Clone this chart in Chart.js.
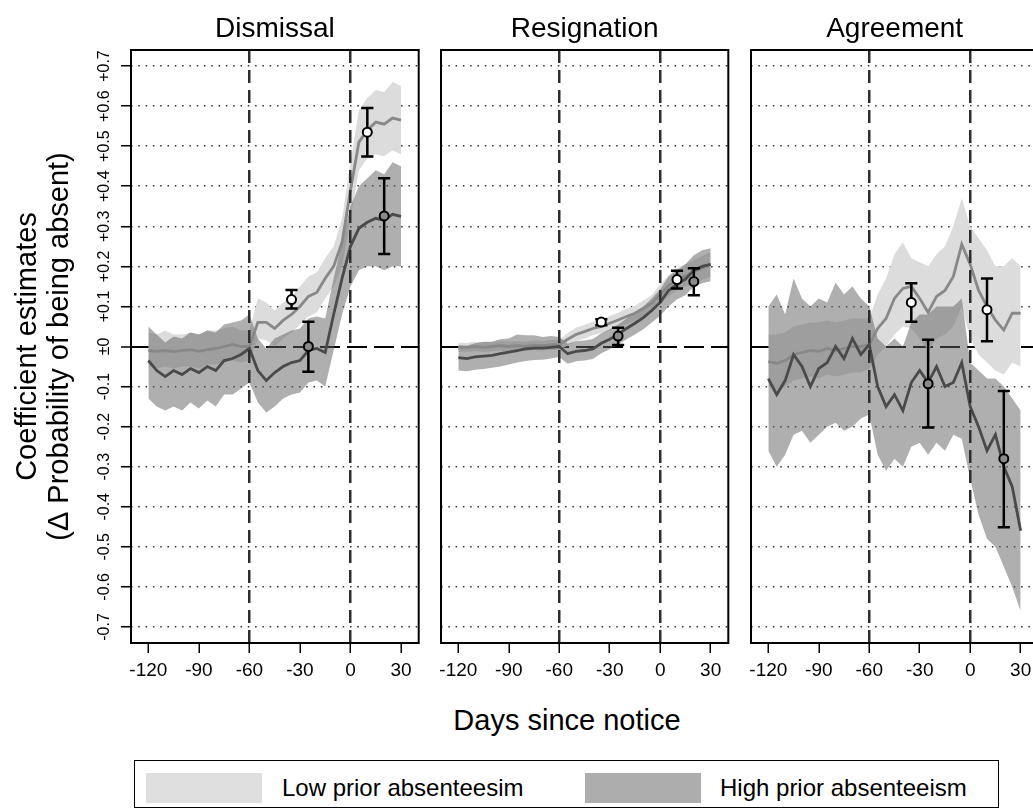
<!DOCTYPE html>
<html lang="en">
<head>
<meta charset="UTF-8">
<title>Absence around notice</title>
<script src="https://cdn.jsdelivr.net/npm/chart.js"></script>
<style>
  body { margin: 0; width: 1033px; height: 812px; overflow: hidden; background: #fff;
         font-family: "Liberation Sans", Arial, Helvetica, sans-serif; color: #000; position: relative; }
  canvas { position: absolute; top: 0; }
  .txt { position: absolute; white-space: nowrap; }
  #xlabel { left: 367px; width: 400px; top: 701px; text-align: center; font-size: 29px; line-height: 38px; }
  #legendBox { position: absolute; left: 134px; top: 760px; width: 865px; height: 48px; border: 1.5px solid #000; box-sizing: border-box; }
  .sw { position: absolute; top: 773px; width: 116px; height: 30px; }
  .lt { top: 773px; font-size: 24px; line-height: 30px; }
</style>
</head>
<body>
<canvas id="c1" width="430" height="700" style="left:0px"></canvas>
<canvas id="c2" width="310" height="700" style="left:430px"></canvas>
<canvas id="c3" width="310" height="700" style="left:740px"></canvas>
<div id="xlabel" class="txt">Days since notice</div>
<div id="legendBox"></div>
<div class="sw" style="left:146px; background:#dedede"></div>
<div class="txt lt" style="left:282px">Low prior absenteesim</div>
<div class="sw" style="left:585px; background:#adadad"></div>
<div class="txt lt" style="left:720px">High prior absenteeism</div>
<script>
// days since notice (every 5 days)
const days = [-120,-115,-110,-105,-100,-95,-90,-85,-80,-75,-70,-65,-60,-55,-50,-45,-40,-35,-30,-25,-20,-15,-10,-5,0,5,10,15,20,25,30];
const xTicks = [-120,-90,-60,-30,0,30];
const xTickLabels = ['-120','-90','-60','-30','0','30'];
const yTicks = [-0.7,-0.6,-0.5,-0.4,-0.3,-0.2,-0.1,0,0.1,0.2,0.3,0.4,0.5,0.6,0.7];
const yTickLabels = ['-0.7','-0.6','-0.5','-0.4','-0.3','-0.2','-0.1','\u00b10','+0.1','+0.2','+0.3','+0.4','+0.5','+0.6','+0.7'];
const panelTitles = ['Dismissal','Resignation','Agreement'];

// Dismissal
const disLowMean = [-0.01,-0.012,-0.01,-0.013,-0.01,-0.008,-0.012,-0.008,-0.005,0.0,0.005,0.0,0.0,0.06,0.06,0.045,0.065,0.08,0.1,0.125,0.135,0.17,0.2,0.26,0.39,0.51,0.54,0.56,0.555,0.57,0.565];
const disLowLo = [-0.05,-0.055,-0.05,-0.055,-0.05,-0.05,-0.055,-0.045,-0.045,-0.04,-0.035,-0.04,-0.035,0.02,0.015,0.0,0.02,0.035,0.055,0.075,0.085,0.12,0.15,0.2,0.32,0.44,0.47,0.48,0.475,0.49,0.48];
const disLowHi = [0.035,0.03,0.04,0.03,0.03,0.035,0.03,0.04,0.04,0.045,0.05,0.04,0.04,0.12,0.11,0.09,0.11,0.125,0.15,0.175,0.185,0.22,0.25,0.32,0.46,0.59,0.62,0.64,0.635,0.66,0.65];
const disHighMean = [-0.035,-0.06,-0.075,-0.06,-0.07,-0.055,-0.065,-0.05,-0.06,-0.035,-0.03,-0.02,-0.005,-0.06,-0.085,-0.065,-0.05,-0.04,-0.035,-0.01,-0.005,-0.015,0.08,0.17,0.25,0.295,0.31,0.32,0.315,0.33,0.325];
const disHighLo = [-0.13,-0.15,-0.16,-0.15,-0.16,-0.14,-0.155,-0.135,-0.15,-0.12,-0.12,-0.105,-0.09,-0.14,-0.165,-0.15,-0.13,-0.12,-0.115,-0.09,-0.085,-0.1,-0.01,0.08,0.15,0.19,0.2,0.2,0.19,0.2,0.2];
const disHighHi = [0.05,0.03,0.01,0.025,0.02,0.035,0.03,0.04,0.035,0.055,0.06,0.065,0.08,0.02,-0.005,0.02,0.03,0.04,0.045,0.07,0.075,0.07,0.17,0.26,0.35,0.4,0.42,0.44,0.43,0.46,0.45];

// Resignation
const resLowMean = [-0.002,-0.002,0.0,-0.002,0.0,0.002,0.0,0.002,0.0,0.003,0.002,0.004,0.004,0.018,0.03,0.037,0.045,0.05,0.058,0.066,0.075,0.083,0.095,0.108,0.13,0.152,0.166,0.176,0.186,0.196,0.205];
const resLowLo = [-0.014,-0.013,-0.012,-0.014,-0.012,-0.01,-0.013,-0.01,-0.012,-0.009,-0.01,-0.008,-0.008,0.002,0.013,0.02,0.028,0.033,0.04,0.048,0.056,0.064,0.075,0.088,0.105,0.126,0.14,0.15,0.157,0.166,0.175];
const resLowHi = [0.01,0.009,0.012,0.01,0.012,0.014,0.012,0.014,0.012,0.015,0.014,0.016,0.016,0.034,0.047,0.054,0.062,0.067,0.076,0.084,0.094,0.102,0.115,0.128,0.155,0.178,0.196,0.206,0.215,0.226,0.235];
const resHighMean = [-0.028,-0.03,-0.026,-0.024,-0.022,-0.018,-0.014,-0.01,-0.006,-0.004,-0.004,-0.002,0.0,-0.018,-0.012,-0.01,-0.006,0.008,0.018,0.03,0.045,0.058,0.072,0.09,0.11,0.14,0.155,0.168,0.19,0.2,0.205];
const resHighLo = [-0.06,-0.062,-0.058,-0.056,-0.053,-0.05,-0.045,-0.04,-0.036,-0.034,-0.033,-0.03,-0.026,-0.043,-0.037,-0.035,-0.031,-0.017,-0.007,0.005,0.018,0.03,0.043,0.06,0.077,0.1,0.118,0.128,0.15,0.158,0.163];
const resHighHi = [0.004,0.002,0.008,0.012,0.012,0.018,0.02,0.03,0.028,0.028,0.024,0.026,0.024,0.007,0.013,0.015,0.019,0.033,0.043,0.055,0.07,0.086,0.1,0.12,0.142,0.175,0.19,0.205,0.228,0.24,0.245];

// Agreement
const agrLowMean = [-0.038,-0.042,-0.035,-0.02,-0.015,-0.01,-0.012,-0.005,-0.01,-0.005,0.0,0.0,0.005,0.045,0.07,0.12,0.145,0.15,0.12,0.085,0.125,0.14,0.175,0.255,0.205,0.14,0.1,0.066,0.041,0.083,0.083];
const agrLowLo = [-0.1,-0.11,-0.1,-0.085,-0.08,-0.075,-0.08,-0.07,-0.075,-0.07,-0.065,-0.065,-0.055,-0.02,0.0,0.03,0.05,0.045,0.02,-0.01,0.02,0.03,0.05,0.1,0.02,-0.02,-0.04,-0.06,-0.07,-0.04,-0.05];
const agrLowHi = [0.03,0.03,0.035,0.05,0.055,0.06,0.06,0.065,0.06,0.065,0.07,0.07,0.07,0.13,0.17,0.23,0.26,0.22,0.21,0.2,0.23,0.25,0.3,0.37,0.3,0.27,0.24,0.2,0.2,0.22,0.2];
const agrHighMean = [-0.08,-0.12,-0.085,-0.02,-0.05,-0.1,-0.055,-0.04,0.0,-0.03,0.02,-0.02,0.005,-0.1,-0.15,-0.12,-0.16,-0.09,-0.06,-0.09,-0.05,-0.1,-0.09,-0.04,-0.15,-0.2,-0.26,-0.22,-0.3,-0.35,-0.46];
const agrHighLo = [-0.26,-0.3,-0.27,-0.22,-0.21,-0.24,-0.22,-0.2,-0.19,-0.21,-0.2,-0.18,-0.17,-0.27,-0.31,-0.28,-0.3,-0.25,-0.24,-0.27,-0.24,-0.26,-0.22,-0.23,-0.33,-0.42,-0.48,-0.5,-0.55,-0.6,-0.66];
const agrHighHi = [0.1,0.13,0.08,0.17,0.12,0.1,0.12,0.11,0.16,0.13,0.15,0.12,0.1,0.02,0.0,0.02,0.0,0.06,0.08,0.08,0.1,0.1,0.1,0.12,-0.04,-0.06,-0.08,-0.08,-0.1,-0.13,-0.16];

// point estimates with error bars (pre and post windows)
const lowPtDays = [-35, 10];
const highPtDays = [-25, 20];
const disLowPt = [0.117, 0.535], disLowPtLo = [0.095, 0.474], disLowPtHi = [0.141, 0.595];
const disHighPt = [0.0, 0.326], disHighPtLo = [-0.063, 0.231], disHighPtHi = [0.062, 0.42];
const resLowPt = [0.061, 0.167], resLowPtLo = [0.053, 0.145], resLowPtHi = [0.068, 0.189];
const resHighPt = [0.026, 0.162], resHighPtLo = [0.004, 0.128], resHighPtHi = [0.047, 0.195];
const agrLowPt = [0.11, 0.092], agrLowPtLo = [0.062, 0.013], agrLowPtHi = [0.158, 0.17];
const agrHighPt = [-0.093, -0.28], agrHighPtLo = [-0.202, -0.451], agrHighPtHi = [0.017, -0.111];

const FONT = '"Liberation Sans", Arial, Helvetica, sans-serif';
Chart.defaults.font.family = FONT;
Chart.defaults.color = '#000';

const capHalf = 3.6; // half cap width in days

function series(ys) {
  return days.map((d, i) => ({x: d, y: ys[i]}));
}
function points(xs, ys) {
  return xs.map((x, i) => ({x: x, y: ys[i]}));
}
function errorPath(xs, lo, hi) {
  const out = [];
  xs.forEach((x, i) => {
    out.push({x: x, y: lo[i]}, {x: x, y: hi[i]}, {x: x, y: null});
    out.push({x: x - capHalf, y: hi[i]}, {x: x + capHalf, y: hi[i]}, {x: x, y: null});
    out.push({x: x - capHalf, y: lo[i]}, {x: x + capHalf, y: lo[i]}, {x: x, y: null});
  });
  return out;
}

const frame = {
  id: 'frame',
  afterDraw(chart) {
    const a = chart.chartArea, ctx = chart.ctx;
    ctx.save();
    ctx.strokeStyle = '#000';
    ctx.lineWidth = 2;
    ctx.strokeRect(a.left, a.top, a.right - a.left, a.bottom - a.top);
    ctx.restore();
  }
};

const isZero = c => c.tick && Math.abs(c.tick.value) < 1e-9;
const isRef = c => c.tick && (c.tick.value === -60 || c.tick.value === 0);

function makePanel(id, idx, d, first) {
  const datasets = [
    {data: series(d.lowHi), fill: '+1', backgroundColor: '#dcdcdc', borderColor: 'rgba(0,0,0,0)', borderWidth: 0, pointRadius: 0, order: 6},
    {data: series(d.lowLo), fill: false, borderColor: 'rgba(0,0,0,0)', borderWidth: 0, pointRadius: 0, order: 6},
    {data: series(d.highHi), fill: '+1', backgroundColor: 'rgba(96,96,96,0.5)', borderColor: 'rgba(0,0,0,0)', borderWidth: 0, pointRadius: 0, order: 5},
    {data: series(d.highLo), fill: false, borderColor: 'rgba(0,0,0,0)', borderWidth: 0, pointRadius: 0, order: 5},
    {data: series(d.lowMean), borderColor: '#888888', borderWidth: 2.8, pointRadius: 0, fill: false, order: 3},
    {data: series(d.highMean), borderColor: '#4a4a4a', borderWidth: 2.8, pointRadius: 0, fill: false, order: 2},
    {data: errorPath(lowPtDays, d.lowPtLo, d.lowPtHi).concat(errorPath(highPtDays, d.highPtLo, d.highPtHi)),
     borderColor: '#000', borderWidth: 2.5, pointRadius: 0, spanGaps: false, fill: false, order: 1},
    {data: points(lowPtDays, d.lowPt), showLine: false, pointRadius: 4.5, pointBackgroundColor: '#fff',
     pointBorderColor: '#000', pointBorderWidth: 2, order: 0},
    {data: points(highPtDays, d.highPt), showLine: false, pointRadius: 4.5, pointBackgroundColor: '#8a8a8a',
     pointBorderColor: '#000', pointBorderWidth: 2, order: 0}
  ];

  return new Chart(document.getElementById(id), {
    type: 'line',
    data: {datasets: datasets},
    options: {
      responsive: false,
      animation: false,
      layout: {padding: {left: first ? 0 : 11, right: first ? 11.3 : 11.7, top: 0, bottom: 0}},
      plugins: {
        legend: {display: false},
        tooltip: {enabled: false},
        title: {display: true, text: panelTitles[idx], fullSize: false, color: '#000',
                font: {size: 28, weight: 'normal'}, padding: {top: 12.2, bottom: 4.2}}
      },
      scales: {
        x: {
          type: 'linear', min: -130.3, max: 40.5, bounds: 'data',
          afterBuildTicks: s => { s.ticks = xTicks.map(v => ({value: v})); },
          afterFit: s => { s.height = 57; },
          ticks: {font: {size: 19}, color: '#000', padding: 6, maxRotation: 0, autoSkip: false,
                  callback: (v, i) => xTickLabels[i]},
          grid: {z: 1, color: c => isRef(c) ? '#2e2e2e' : 'rgba(0,0,0,0)', lineWidth: 2.5,
                 tickColor: '#000', tickWidth: 1.5, tickLength: 10, tickBorderDash: []},
          border: {display: false, dash: [13, 7]}
        },
        y: {
          type: 'linear', min: -0.74, max: 0.74, bounds: 'data',
          afterBuildTicks: s => { s.ticks = yTicks.map(v => ({value: v})); },
          afterFit: s => { s.width = first ? 131 : 0; },
          ticks: {display: first, minRotation: 90, maxRotation: 90, crossAlign: 'center', padding: 1,
                  font: {size: 16}, color: '#000', autoSkip: false, callback: (v, i) => yTickLabels[i]},
          grid: {color: c => isZero(c) ? '#000' : '#333', lineWidth: c => isZero(c) ? 2 : 1.5,
                 drawTicks: first, tickColor: '#000', tickWidth: 1.5, tickLength: 10, tickBorderDash: []},
          border: {display: false, dash: c => isZero(c) ? [20, 7] : [1.5, 5.8]},
          title: {display: first, text: ['Coefficient estimates', '(\u0394 Probability of being absent)'],
                  color: '#000', font: {size: 29, lineHeight: 1.1}, padding: {top: 12, bottom: 0}}
        }
      }
    },
    plugins: [frame]
  });
}

makePanel('c1', 0, {
  lowMean: disLowMean, lowLo: disLowLo, lowHi: disLowHi,
  highMean: disHighMean, highLo: disHighLo, highHi: disHighHi,
  lowPt: disLowPt, lowPtLo: disLowPtLo, lowPtHi: disLowPtHi,
  highPt: disHighPt, highPtLo: disHighPtLo, highPtHi: disHighPtHi
}, true);
makePanel('c2', 1, {
  lowMean: resLowMean, lowLo: resLowLo, lowHi: resLowHi,
  highMean: resHighMean, highLo: resHighLo, highHi: resHighHi,
  lowPt: resLowPt, lowPtLo: resLowPtLo, lowPtHi: resLowPtHi,
  highPt: resHighPt, highPtLo: resHighPtLo, highPtHi: resHighPtHi
}, false);
makePanel('c3', 2, {
  lowMean: agrLowMean, lowLo: agrLowLo, lowHi: agrLowHi,
  highMean: agrHighMean, highLo: agrHighLo, highHi: agrHighHi,
  lowPt: agrLowPt, lowPtLo: agrLowPtLo, lowPtHi: agrLowPtHi,
  highPt: agrHighPt, highPtLo: agrHighPtLo, highPtHi: agrHighPtHi
}, false);
</script>
</body>
</html>
